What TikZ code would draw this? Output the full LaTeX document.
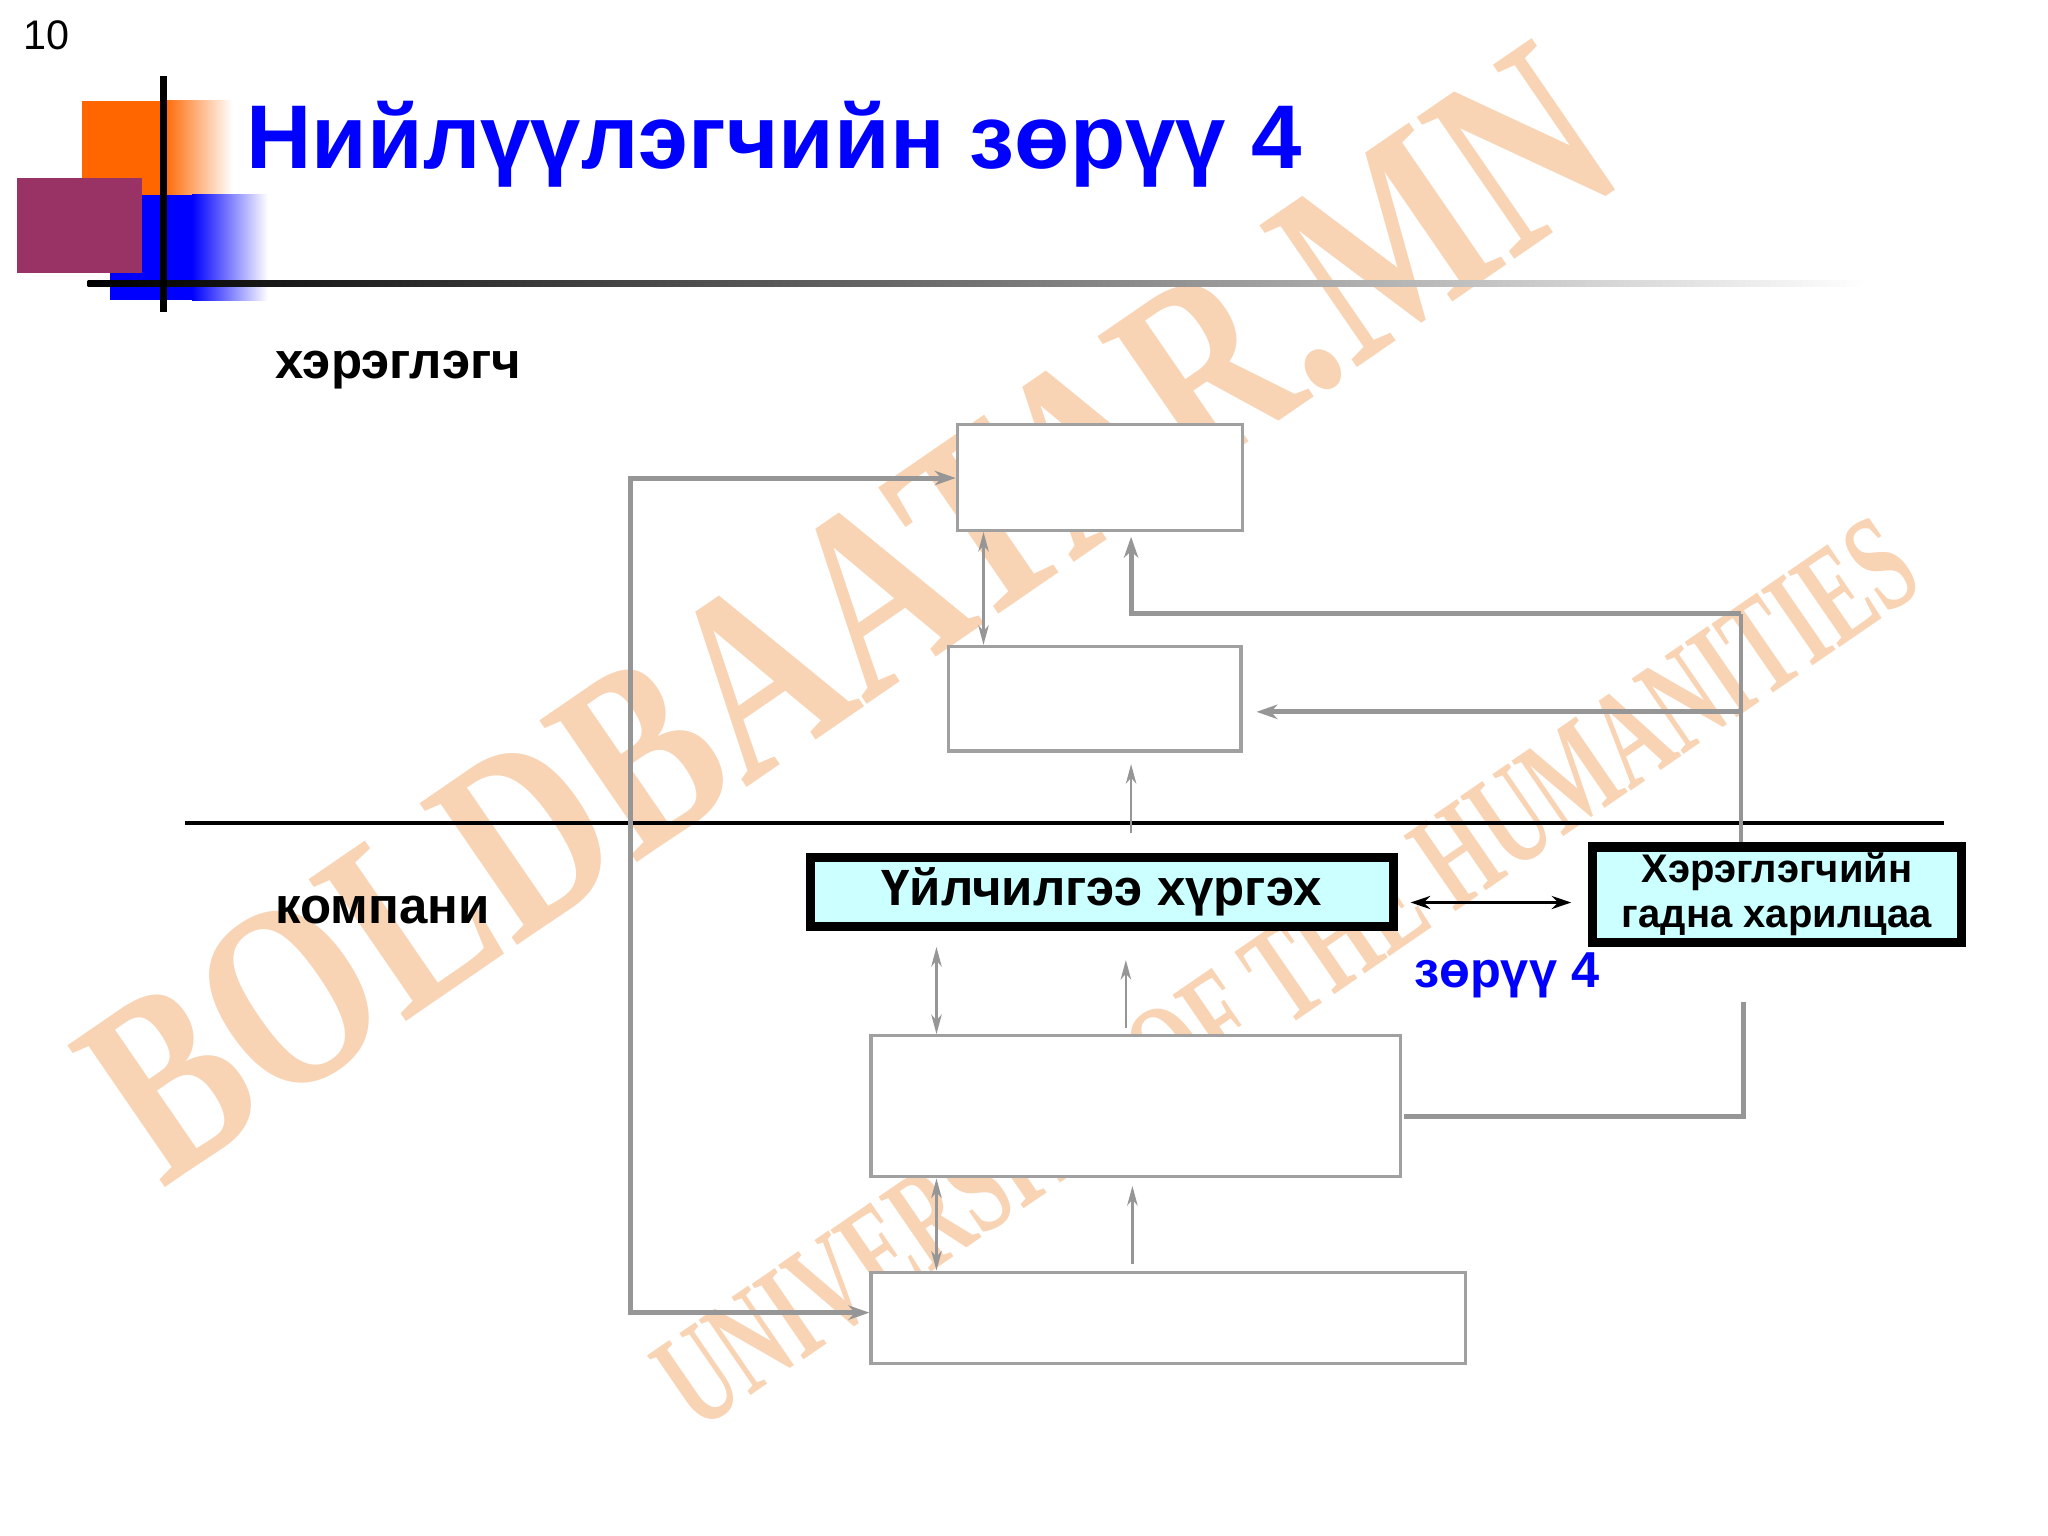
\documentclass[tikz,border=0pt]{standalone}
\usepackage{fontspec}
\setmainfont{Liberation Sans}
\newfontfamily\wmfont{Liberation Serif}
\usetikzlibrary{arrows.meta,calc}
\definecolor{gline}{RGB}{150,150,150}
\definecolor{gboxc}{RGB}{160,160,160}
\definecolor{cyanfill}{RGB}{204,255,255}
\definecolor{titleblue}{RGB}{0,0,255}
\definecolor{decoorange}{RGB}{255,102,0}
\definecolor{decopurple}{RGB}{153,51,102}
\definecolor{wmorange}{RGB}{240,160,90}
\tikzset{
  bigtip/.tip={Stealth[length=1.6mm,width=1.1mm,inset=0.5mm]},
  smalltip/.tip={Stealth[length=1.5mm,width=0.8mm,inset=0.45mm]},
  blacktip/.tip={Stealth[length=1.5mm,width=1.0mm,inset=0.5mm]},
  box/.style={draw=gboxc, line width=0.7pt, fill=white, inner sep=0pt},
  keybox/.style={draw=black, line width=2pt, fill=cyanfill, inner sep=0pt, align=center},
  thickline/.style={draw=gline, line width=1.1pt},
  medline/.style={draw=gline, line width=0.8pt},
  thinline/.style={draw=gline, line width=0.55pt},
  wmstyle/.style={text=wmorange, opacity=0.45, inner sep=0pt},
  lbl/.style={anchor=base west, inner sep=0pt}
}
\begin{document}
\begin{tikzpicture}[x=0.01cm,y=-0.01cm]
\useasboundingbox (0,0) rectangle (1568,1176);
\fill[white] (0,0) rectangle (1568,1176);
% watermark
\node[wmstyle, rotate=34.5, yscale=1.3, font=\wmfont\bfseries\fontsize{44}{50}\selectfont] (wm1) at (650,470) {BOLDBAATAR.MN};
\node[wmstyle, rotate=34.5, yscale=1.6, font=\wmfont\bfseries\fontsize{19}{23}\selectfont] (wm2) at (985,745) {UNIVERSITY OF THE HUMANITIES};
% decoration
\fill[decoorange] (63,77) rectangle (125,149);
\shade[left color=decoorange, right color=white] (125,77) rectangle (178,149);
\fill[blue] (84,149) rectangle (147,230);
\shade[left color=blue, right color=white] (147,149) rectangle (205,230);
\fill[decopurple] (13,136) rectangle (109,209);
\shade[left color=black, right color=white, middle color=black!55] (67,214.5) rectangle (1430,219.5);
\fill[black] (122.5,58) rectangle (127.5,239);
% texts
\node[lbl, font=\fontsize{9}{11}\selectfont] (pg) at (17,38) {10};
\node[lbl, text=titleblue, font=\bfseries\fontsize{19.7}{24}\selectfont] (title) at (188,129) {Нийлүүлэгчийн зөрүү 4};
\node[lbl, font=\bfseries\fontsize{11.1}{13}\selectfont] (user) at (210,290) {хэрэглэгч};
\node[lbl, font=\bfseries\fontsize{11.1}{13}\selectfont] (comp) at (210,707) {компани};
% divider
\coordinate (divL) at (142,630);
\coordinate (divR) at (1488,630);
\draw[black, line width=0.8pt] (divL) -- (divR);
% boxes
\node[box, minimum width=2.18cm, minimum height=0.81cm] (A) at (842,365.5) {};
\node[box, minimum width=2.24cm, minimum height=0.80cm] (B) at (838,535) {};
\node[keybox, minimum width=4.46cm, minimum height=0.53cm, font=\bfseries\fontsize{11.1}{13}\selectfont] (C) at (843.5,683) {Үйлчилгээ хүргэх};
\node[keybox, minimum width=2.82cm, minimum height=0.73cm, font=\bfseries\fontsize{8.7}{9.8}\selectfont] (D) at (1360.5,685) {Хэрэглэгчийн\\гадна харилцаа};
\node[box, minimum width=4.05cm, minimum height=1.08cm] (E) at (869.5,847) {};
\node[box, minimum width=4.55cm, minimum height=0.70cm] (F) at (894.5,1009) {};
\node[lbl, text=titleblue, font=\bfseries\fontsize{11}{13}\selectfont] (zoruu) at (1082,756) {зөрүү 4};
% loop connector
\coordinate (loopTL) at (483,366);
\coordinate (loopBL) at (483,1005);
\draw[thickline, bigtip-bigtip] (A.west |- loopTL) -- (loopTL) -- (loopBL) -- (F.west |- loopBL);
% A-B
\coordinate (abx) at (753,0);
\draw[thinline, smalltip-smalltip] (abx |- A.south) -- (abx |- B.north);
% right path from D
\coordinate (rx) at (1333,0);
\coordinate (rTop) at (1333,470);
\coordinate (rMid) at (1333,545);
\coordinate (aTip) at (866,411);
\coordinate (bTip) at (962,545);
\draw[medline] (rx |- D.north) -- (rTop);
\draw[thickline, -bigtip] (rTop) -| (aTip);
\draw[thickline, -bigtip] (rMid) -- (bTip);
% C up to B
\coordinate (cbS) at (866,638);
\coordinate (cbT) at (866,585);
\draw[thinline, -smalltip] (cbS) -- (cbT);
% C-D
\coordinate (cdL) at (1080,691);
\coordinate (cdR) at (1203,691);
\draw[black, line width=0.8pt, blacktip-blacktip] (cdL) -- (cdR);
% C-E
\coordinate (ceT) at (717,725);
\draw[thinline, smalltip-smalltip] (ceT) -- (ceT |- E.north);
\coordinate (ecS) at (862,787);
\coordinate (ecT) at (862,735);
\draw[thinline, -smalltip] (ecS) -- (ecT);
% E-F
\coordinate (efx) at (717,0);
\draw[thinline, smalltip-smalltip] (efx |- E.south) -- (efx |- F.north);
\coordinate (feS) at (867,968);
\coordinate (feT) at (867,908);
\draw[thinline, -smalltip] (feS) -- (feT);
% E right
\coordinate (eOut) at (1075,855);
\coordinate (eUp) at (1335,767);
\draw[thickline] (eOut) -| (eUp);
\end{tikzpicture}
\end{document}
